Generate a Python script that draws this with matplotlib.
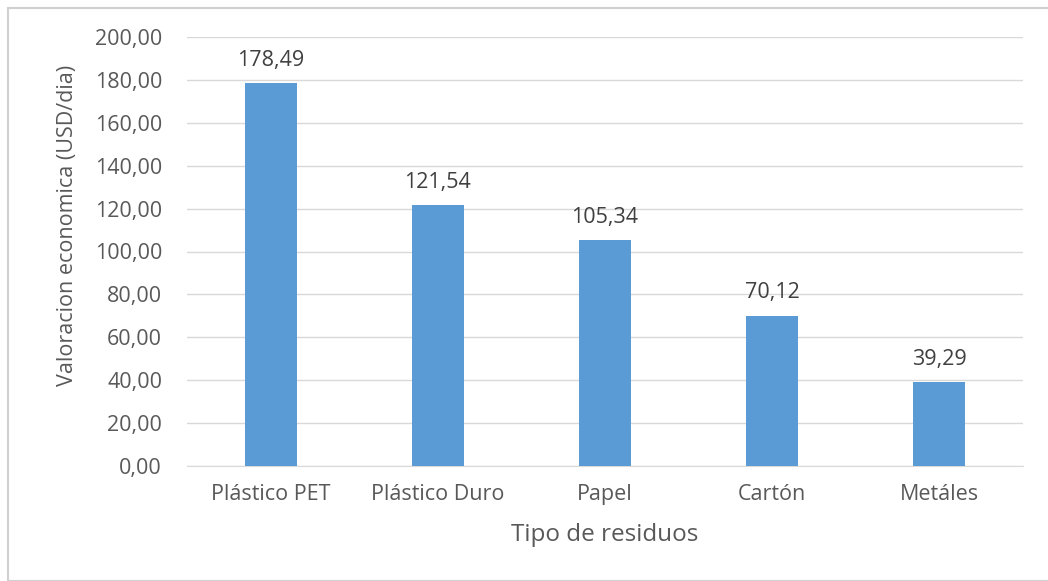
import matplotlib.pyplot as plt
from matplotlib.patches import Rectangle
from matplotlib.ticker import FuncFormatter

# residue types and their daily economic value (USD/dia)
tipos = ["Plástico PET", "Plástico Duro", "Papel", "Cartón", "Metáles"]
valores = [178.49, 121.54, 105.34, 70.12, 39.29]

plt.rcParams['font.family'] = ['Open Sans', 'DejaVu Sans']
gris = '#595959'

fig = plt.figure(figsize=(10.48, 5.81), dpi=100)
ax = fig.add_axes([187 / 1048, 1 - 466 / 581, 836 / 1048, 429 / 581])

# chart frame
fig.patches.append(Rectangle((8 / 1048, 0), 1.0, 1 - 8 / 581, transform=fig.transFigure,
                             fill=False, edgecolor='#D0D0D0', linewidth=1.5))

x = range(len(tipos))
barras = ax.bar(x, valores, width=0.31, color='#5B9BD5', zorder=3)
for b, v in zip(barras, valores):
    ax.text(b.get_x() + b.get_width() / 2, v + 8, f"{v:.2f}".replace('.', ','),
            ha='center', va='baseline', fontsize=15.5, color='#404040')

ax.set_xlim(-0.5, len(tipos) - 0.5)
ax.set_ylim(0, 200)
ax.set_yticks(range(0, 201, 20))
ax.yaxis.set_major_formatter(FuncFormatter(lambda v, p: f"{v:.2f}".replace('.', ',')))
ax.grid(axis='y', color='#D9D9D9', linewidth=1, zorder=0)
ax.set_xticks(list(x))
ax.set_xticklabels(tipos)
ax.tick_params(axis='both', length=0, labelsize=15.5, labelcolor=gris)
ax.tick_params(axis='y', pad=18)
ax.tick_params(axis='x', pad=13)
for s in ['top', 'right', 'left']:
    ax.spines[s].set_visible(False)
ax.spines['bottom'].set_color('#D9D9D9')

ax.set_xlabel("Tipo de residuos", fontsize=17.5, color=gris, labelpad=13)
ax.set_ylabel("Valoracion economica (USD/dia)", fontsize=15.5, color=gris)
ax.yaxis.set_label_coords(-0.13, 0.56)

fig.savefig("out.png", dpi=100)
